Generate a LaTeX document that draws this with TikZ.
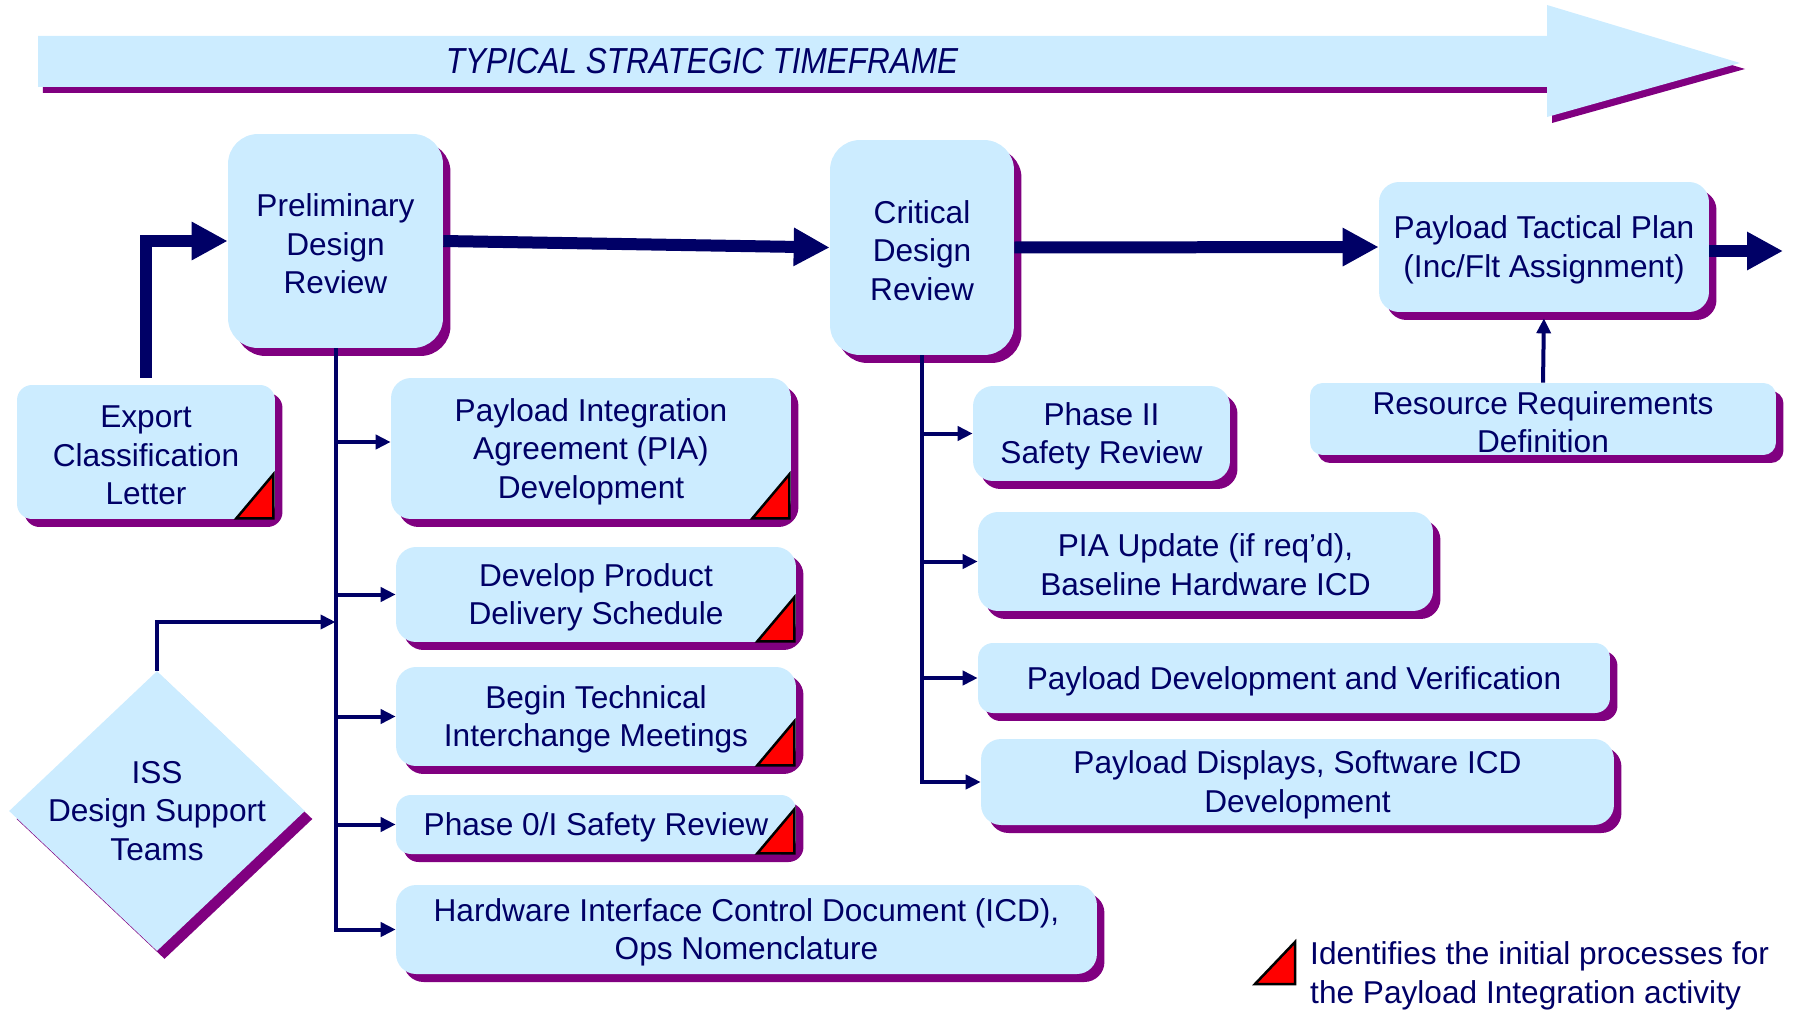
\documentclass[tikz,border=0pt]{standalone}
\usepackage{fontspec}
\setmainfont{Liberation Sans}
\newfontfamily\titlefont[FakeStretch=0.87]{Liberation Sans}
\usepackage{xcolor}
\usepackage{tikz}
\usetikzlibrary{calc}
\usetikzlibrary{arrows.meta}
\usetikzlibrary{shapes}
\usetikzlibrary{shapes.geometric}
\usetikzlibrary{shadows}
\usetikzlibrary{positioning}

\definecolor{boxblue}{HTML}{CCECFF}
\definecolor{shadowpurple}{HTML}{800080}
\definecolor{navy}{HTML}{000066}

\newcommand{\redflag}[1]{\filldraw [fill=red, draw=black, line width=0.05cm] ($(#1.south east)+(-2,-1)$) -- ++(-37,0) -- ++(37,-44) -- cycle;}

\begin{document}
\begin{tikzpicture}[x=0.02cm, y=-0.02cm,
  purpleshadow/.style={drop shadow={shadow xshift=0.15cm, shadow yshift=-0.16cm, opacity=1, fill=shadowpurple}},
  toprule/.style={execute at begin node={\rule{0pt}{#1}}},
  boxtext/.style={text=navy, align=center, font=\fontsize{18}{21.9}\selectfont, toprule=16.5pt},
  twolines/.style={toprule=38.4pt},
  threelines/.style={toprule=60.3pt},
  stepbox/.style={rectangle, rounded corners=0.4cm, fill=boxblue, purpleshadow, boxtext, inner sep=0pt},
  reviewbox/.style={stepbox, rounded corners=0.6cm},
  thickarrow/.style={draw=navy, line width=0.24cm, -{Triangle[length=0.72cm, width=0.72cm]}},
  thinline/.style={draw=navy, line width=0.08cm},
  thinarrow/.style={thinline, -{Triangle[length=0.3cm, width=0.28cm]}}]

\useasboundingbox (0, 0) rectangle (1797, 1010);

\fill [boxblue, drop shadow={shadow xshift=0.1cm, shadow yshift=-0.12cm, opacity=1, fill=shadowpurple}] (38, 36) -- (1547, 36) -- (1547, 5) -- (1740, 63) -- (1547, 117) -- (1547, 87) -- (38, 87) -- cycle;
\node [text=navy, font=\titlefont\itshape\fontsize{20.6}{24}\selectfont] (timeframe) at (702, 61) {TYPICAL STRATEGIC TIMEFRAME};

\node [reviewbox, threelines, minimum width=4.3cm, minimum height=4.28cm] (pdr) at (335.5, 241) {Preliminary\\Design\\Review};
\node [reviewbox, threelines, minimum width=3.68cm, minimum height=4.3cm] (cdr) at (922, 247.5) {Critical\\Design\\Review};
\node [stepbox, twolines, minimum width=6.6cm, minimum height=2.6cm] (ptp) at (1544, 247) {Payload Tactical Plan\\(Inc/Flt Assignment)};
\node [stepbox, twolines, rounded corners=0.25cm, minimum width=9.32cm, minimum height=1.44cm] (rrd) at (1543, 419) {Resource Requirements\\Definition};
\node [stepbox, threelines, rounded corners=0.3cm, minimum width=5.16cm, minimum height=2.68cm] (ecl) at (146, 452) {Export\\Classification\\Letter};

\node [stepbox, threelines, minimum width=8cm, minimum height=2.82cm] (pia) at (591, 448.5) {Payload Integration\\Agreement (PIA)\\Development};
\node [stepbox, twolines, minimum width=8cm, minimum height=1.9cm] (dpd) at (596, 594.5) {Develop Product\\Delivery Schedule};
\node [stepbox, twolines, minimum width=8cm, minimum height=1.98cm] (tim) at (596, 716.5) {Begin Technical\\Interchange Meetings};
\node [stepbox, rounded corners=0.3cm, minimum width=8cm, minimum height=1.18cm] (p0) at (596, 824.5) {Phase 0/I Safety Review};
\node [stepbox, twolines, minimum width=14.02cm, minimum height=1.78cm] (icd) at (746.5, 929.5) {Hardware Interface Control Document (ICD),\\Ops Nomenclature};

\node [stepbox, twolines, minimum width=5.14cm, minimum height=1.9cm] (p2) at (1101.5, 433.5) {Phase II\\Safety Review};
\node [stepbox, twolines, minimum width=9.1cm, minimum height=1.98cm] (piau) at (1205.5, 561.5) {PIA Update (if req’d),\\Baseline Hardware ICD};
\node [stepbox, rounded corners=0.3cm, minimum width=12.64cm, minimum height=1.4cm] (pdv) at (1294, 678) {Payload Development and Verification};
\node [stepbox, twolines, minimum width=12.66cm, minimum height=1.72cm] (pds) at (1297.5, 782) {Payload Displays, Software ICD\\Development};

\node [diamond, fill=boxblue, purpleshadow, minimum width=5.92cm, minimum height=5.6cm, inner sep=0pt] (iss) at (157, 811) {};
\node [boxtext] (isslabel) at (iss.center) {ISS\\Design Support\\Teams};

\redflag{ecl}
\redflag{pia}
\redflag{dpd}
\redflag{tim}
\redflag{p0}

\draw [thickarrow] ([yshift=0.14cm]ecl.north) |- (pdr.west);
\draw [thickarrow] (pdr.east) to (cdr.west);
\draw [thickarrow] (cdr.east) to (ptp.west);
\coordinate (next) at (1783, 251);
\draw [thickarrow] (ptp.east |- next) to (next);
\draw [thinarrow, shorten >=0.12cm] (rrd.north) to (ptp.south);

\draw [thinarrow] (pdr.south) |- (icd.west);
\draw [thinarrow] (pdr.south |- 0, 442) to (pia.west |- 0, 442);
\foreach \target in {dpd, tim, p0}
  \draw [thinarrow] (pdr.south |- \target.west) to (\target.west);
\coordinate (join) at (335.5, 622);
\draw [thinarrow] (iss.north) |- (join);

\draw [thinarrow] (cdr.south) |- (pds.west);
\foreach \target in {p2, piau, pdv}
  \draw [thinarrow] (cdr.south |- \target.west) to (\target.west);

\filldraw [fill=red, draw=black, line width=0.05cm] (1255, 984) -- (1295, 984) -- (1295, 942) -- cycle;
\node [boxtext, twolines, anchor=west, align=left] (legend) at (1304, 973) {Identifies the initial processes for\\the Payload Integration activity};
\end{tikzpicture}
\end{document}
